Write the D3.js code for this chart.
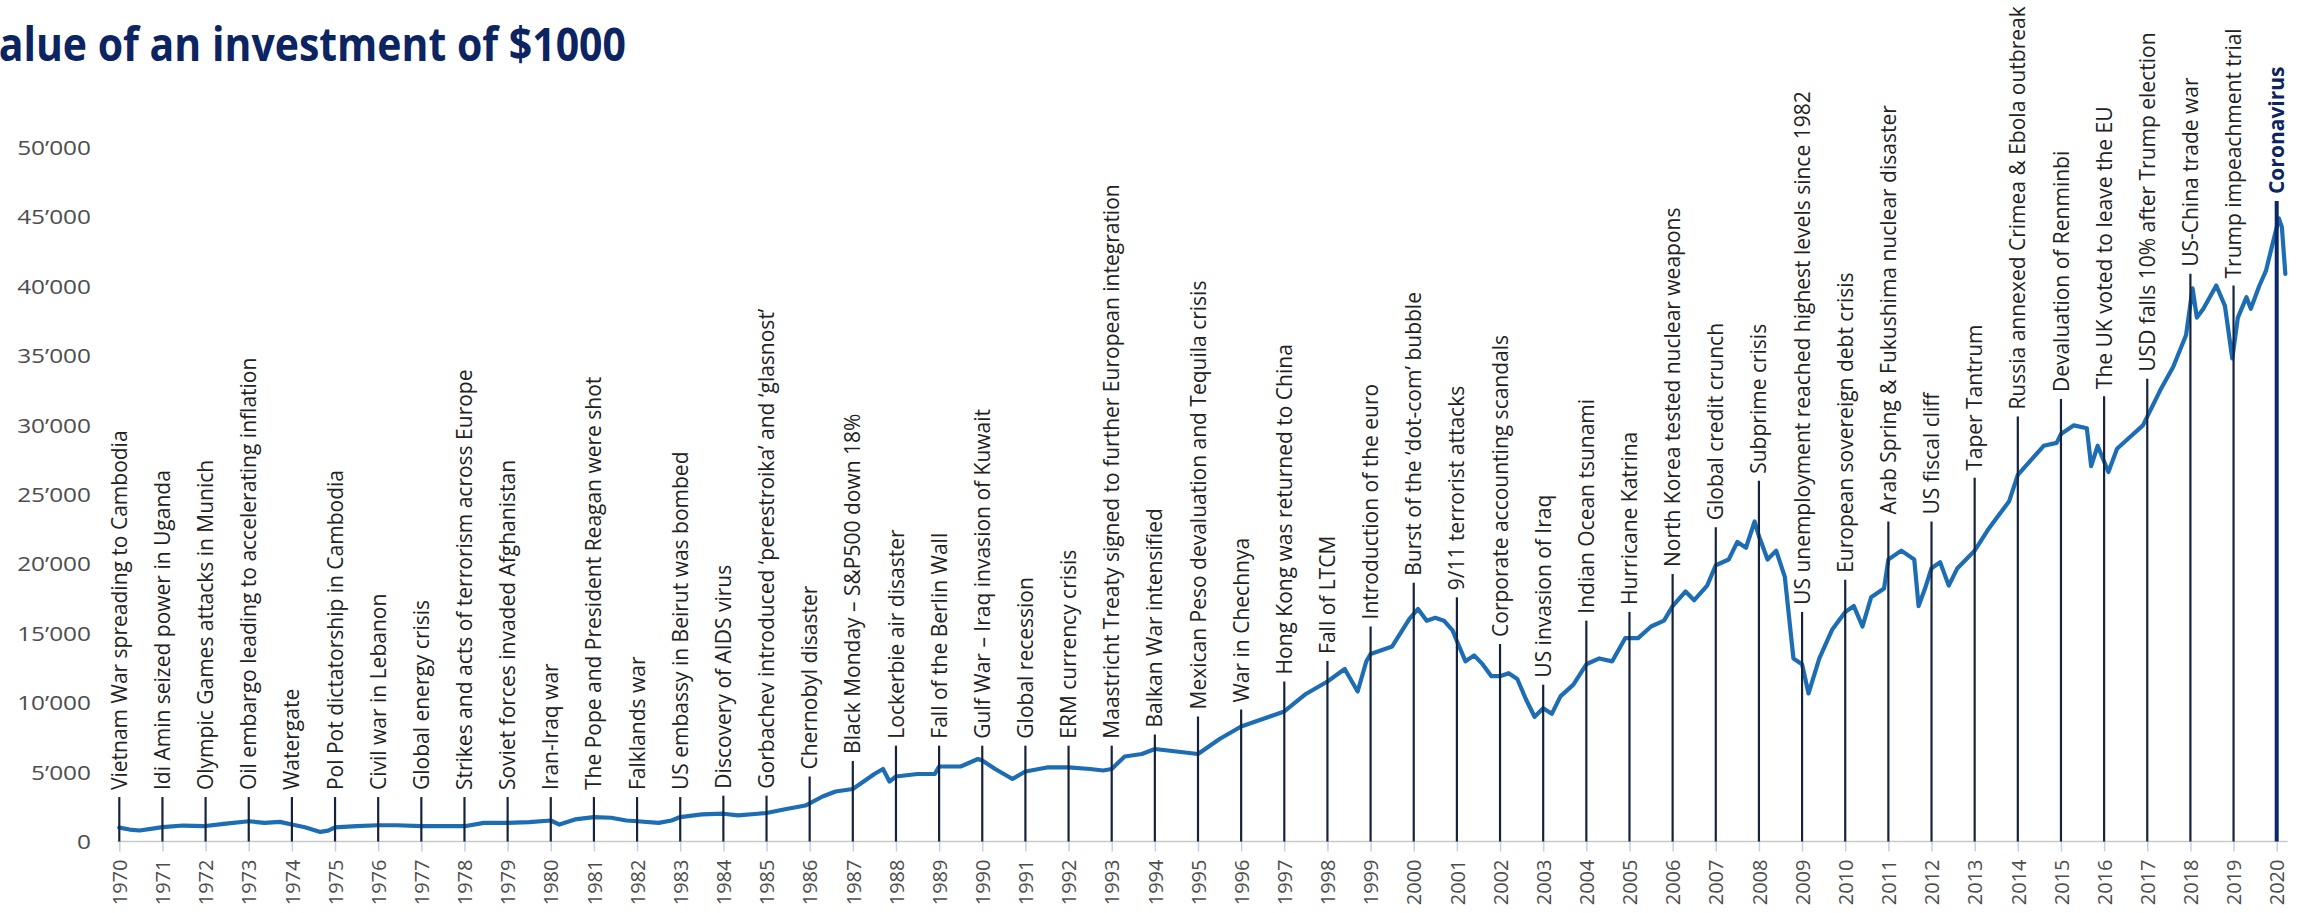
<!DOCTYPE html>
<html>
<head>
<meta charset="utf-8">
<script src="https://cdn.jsdelivr.net/npm/d3@7"></script>
<style>
  body { margin: 0; background: #fff; }
  svg { display: block; }
</style>
</head>
<body>
<svg id="chart" width="2313" height="913"></svg>
<script>
// ---- data ----------------------------------------------------------------
const titleText = "Value of an investment of $1000";

const yTicks = [0, 5000, 10000, 15000, 20000, 25000, 30000, 35000, 40000, 45000, 50000];
const yearTicks = d3.range(1970, 2021);

// portfolio value in USD, sampled along the time axis (decimal years)
const seriesDates = [
  1970.00, 1970.24, 1970.47, 1970.77, 1971.00, 1971.48, 1971.95, 1972.42, 1973.00, 1973.37,
  1973.72, 1974.00, 1974.30, 1974.66, 1974.84, 1975.00, 1975.50, 1976.00, 1976.43, 1977.00,
  1977.50, 1978.00, 1978.45, 1979.00, 1979.50, 1980.00, 1980.20, 1980.56, 1981.00, 1981.40,
  1981.75, 1982.00, 1982.50, 1982.80, 1983.00, 1983.50, 1984.00, 1984.34, 1984.80, 1985.00,
  1985.40, 1985.90, 1986.30, 1986.60, 1987.00, 1987.50, 1987.70, 1987.85, 1988.00, 1988.50,
  1988.90, 1989.00, 1989.50, 1989.90, 1990.00, 1990.30, 1990.70, 1991.00, 1991.50, 1992.00,
  1992.50, 1992.80, 1993.00, 1993.30, 1993.70, 1994.00, 1994.50, 1995.00, 1995.50, 1996.00,
  1996.50, 1997.00, 1997.50, 1997.80, 1998.00, 1998.40, 1998.70, 1998.90, 1999.00, 1999.50,
  1999.90, 2000.10, 2000.30, 2000.50, 2000.70, 2000.90, 2001.00, 2001.20, 2001.40, 2001.60,
  2001.80, 2002.00, 2002.20, 2002.40, 2002.60, 2002.80, 2003.00, 2003.20, 2003.40, 2003.70,
  2004.00, 2004.30, 2004.60, 2004.90, 2005.20, 2005.50, 2005.80, 2006.00, 2006.30, 2006.50,
  2006.80, 2007.00, 2007.30, 2007.50, 2007.70, 2007.90, 2008.00, 2008.20, 2008.40, 2008.60,
  2008.80, 2009.00, 2009.15, 2009.40, 2009.70, 2010.00, 2010.20, 2010.40, 2010.60, 2010.90,
  2011.00, 2011.30, 2011.60, 2011.70, 2011.85, 2012.00, 2012.20, 2012.40, 2012.60, 2012.80,
  2013.00, 2013.30, 2013.50, 2013.80, 2014.00, 2014.30, 2014.60, 2014.90, 2015.00, 2015.30,
  2015.60, 2015.70, 2015.85, 2016.10, 2016.30, 2016.60, 2016.90, 2017.00, 2017.30, 2017.60,
  2017.90, 2018.05, 2018.15, 2018.30, 2018.60, 2018.80, 2018.97, 2019.10, 2019.30, 2019.40,
  2019.60, 2019.75, 2020.05, 2020.12, 2020.20
];
const seriesValues = [
  1000, 860, 790, 930, 1030, 1150, 1100, 1270, 1460, 1340,
  1410, 1220, 1030, 690, 780, 1020, 1100, 1170, 1170, 1100,
  1100, 1100, 1340, 1340, 1390, 1510, 1220, 1590, 1760, 1710,
  1510, 1460, 1340, 1510, 1760, 1950, 2000, 1880, 2000, 2050,
  2300, 2590, 3240, 3600, 3780, 4860, 5220, 4320, 4680, 4860,
  4860, 5400, 5400, 5940, 5830, 5220, 4500, 5040, 5330, 5330,
  5220, 5110, 5220, 6120, 6300, 6660, 6480, 6300, 7380, 8280,
  8820, 9360, 10620, 11160, 11520, 12420, 10800, 12960, 13500, 14040,
  16020, 16740, 15900, 16100, 15900, 15200, 14430, 12970, 13400, 12750,
  11900, 11900, 12120, 11700, 10240, 8980, 9600, 9190, 10450, 11290,
  12760, 13180, 12970, 14640, 14640, 15480, 15900, 16950, 18000, 17370,
  18420, 19890, 20300, 21570, 21150, 23040, 21990, 20300, 20940, 19050,
  13180, 12760, 10660, 13180, 15270, 16530, 16950, 15480, 17580, 18210,
  20300, 20940, 20300, 16950, 18210, 19680, 20100, 18420, 19680, 20300,
  20940, 22400, 23250, 24500, 26390, 27440, 28490, 28700, 29330, 29960,
  29750, 27020, 28490, 26600, 28280, 29120, 29960, 30590, 32480, 34160,
  36460, 39820, 37720, 38350, 40030, 38560, 34780, 37720, 39190, 38350,
  40030, 41080, 44860, 44230, 40870
];

// one headline event per year; the level is the value at which its marker stem ends
const eventYears = d3.range(1970, 2021);
const eventLabels = [
  "Vietnam War spreading to Cambodia",
  "Idi Amin seized power in Uganda",
  "Olympic Games attacks in Munich",
  "Oil embargo leading to accelerating inflation",
  "Watergate",
  "Pol Pot dictatorship in Cambodia",
  "Civil war in Lebanon",
  "Global energy crisis",
  "Strikes and acts of terrorism across Europe",
  "Soviet forces invaded Afghanistan",
  "Iran-Iraq war",
  "The Pope and President Reagan were shot",
  "Falklands war",
  "US embassy in Beirut was bombed",
  "Discovery of AIDS virus",
  "Gorbachev introduced \u2018perestroika\u2019 and \u2018glasnost\u2019",
  "Chernobyl disaster",
  "Black Monday \u2013 S&P500 down 18%",
  "Lockerbie air disaster",
  "Fall of the Berlin Wall",
  "Gulf War \u2013 Iraq invasion of Kuwait",
  "Global recession",
  "ERM currency crisis",
  "Maastricht Treaty signed to further European integration",
  "Balkan War intensified",
  "Mexican Peso devaluation and Tequila crisis",
  "War in Chechnya",
  "Hong Kong was returned to China",
  "Fall of LTCM",
  "Introduction of the euro",
  "Burst of the \u2018dot-com\u2019 bubble",
  "9/11 terrorist attacks",
  "Corporate accounting scandals",
  "US invasion of Iraq",
  "Indian Ocean tsunami",
  "Hurricane Katrina",
  "North Korea tested nuclear weapons",
  "Global credit crunch",
  "Subprime crisis",
  "US unemployment reached highest levels since 1982",
  "European sovereign debt crisis",
  "Arab Spring & Fukushima nuclear disaster",
  "US fiscal cliff",
  "Taper Tantrum",
  "Russia annexed Crimea & Ebola outbreak",
  "Devaluation of Renminbi",
  "The UK voted to leave the EU",
  "USD falls 10% after Trump election",
  "US-China trade war",
  "Trump impeachment trial",
  "Coronavirus"
];
const eventLevels = [
  3200, 3200, 3200, 3200, 3200, 3200, 3200, 3200, 3200, 3200,
  3200, 3200, 3200, 3200, 3300, 3300, 4680, 5800, 6900, 6900,
  6900, 6900, 6900, 6900, 7700, 9000, 9500, 11520, 13000, 15480,
  18630, 17580, 14220, 11290, 15900, 16530, 19260, 22620, 25970, 16530,
  18840, 23040, 23040, 26180, 30590, 31850, 32060, 33320, 40870, 40030,
  46110
];
const highlightYear = 2020;

// ---- layout --------------------------------------------------------------
const svg = d3.select("#chart");
const x = d3.scaleLinear().domain([1970, 2020]).range([119.3, 2276.7]);
const y = d3.scaleLinear().domain([0, 50000]).range([841.5, 147]);

const fmt = v => d3.format(",")(v).replace(/,/g, "\u2019");

// title (runs off the left edge of the page)
svg.append("text")
  .attr("x", 626)
  .attr("y", 61)
  .attr("text-anchor", "end")
  .attr("textLength", 654)
  .attr("lengthAdjust", "spacingAndGlyphs")
  .style("font-family", "'Open Sans', sans-serif")
  .style("font-weight", 700)
  .style("font-size", "46px")
  .style("fill", "#0c2461")
  .text(titleText);

// y axis labels only
const yAxis = svg.append("g")
  .attr("transform", "translate(91,0)")
  .call(d3.axisLeft(y).tickValues(yTicks).tickFormat(fmt).tickSize(0).tickPadding(0));
yAxis.select(".domain").remove();
yAxis.selectAll("text")
  .attr("transform", "scale(1.22,1)")
  .attr("dy", "0.36em")
  .style("font-family", "'Open Sans', sans-serif")
  .style("font-size", "20px")
  .style("fill", "#4d4d4d");

// x axis with rotated year labels
const xAxis = svg.append("g")
  .attr("transform", `translate(0,${y(0)})`)
  .call(d3.axisBottom(x).tickValues(yearTicks).tickFormat(d3.format("d")).tickSize(10).tickPadding(0));
xAxis.select(".domain")
  .attr("d", `M${x(1970) - 2},0H${x(2020) + 11}`)
  .attr("stroke", "#c9c9c9")
  .attr("stroke-width", 1.5);
xAxis.selectAll(".tick line")
  .attr("stroke", "#c9cde6")
  .attr("stroke-width", 1.5);
xAxis.selectAll(".tick text")
  .attr("transform", "rotate(-90)")
  .attr("x", -18)
  .attr("y", 0)
  .attr("dy", "0.36em")
  .attr("text-anchor", "end")
  .style("font-family", "'Open Sans', sans-serif")
  .style("font-size", "20px")
  .style("fill", "#4d4d4d");

// value line
const series = seriesDates.map((d, i) => ({ t: d, v: seriesValues[i] }));
svg.append("path")
  .datum(series)
  .attr("fill", "none")
  .attr("stroke", "#1c6db4")
  .attr("stroke-width", 4.2)
  .attr("stroke-linejoin", "round")
  .attr("stroke-linecap", "round")
  .attr("d", d3.line().x(d => x(d.t)).y(d => y(d.v)));

// event stems and their labels
const events = eventYears.map((yr, i) => ({ yr, label: eventLabels[i], level: eventLevels[i] }));
const ev = svg.append("g").selectAll("g")
  .data(events)
  .join("g")
  .attr("transform", d => `translate(${x(d.yr)},${y(d.level)})`);

ev.append("line")
  .attr("x1", 0).attr("x2", 0)
  .attr("y1", 0)
  .attr("y2", d => y(0) - y(d.level))
  .attr("stroke", d => d.yr === highlightYear ? "#0b2866" : "#17233d")
  .attr("stroke-width", d => d.yr === highlightYear ? 4 : 2.2);

ev.append("text")
  .attr("transform", "rotate(-90)")
  .attr("x", 7)
  .attr("dy", "0.36em")
  .attr("text-anchor", "start")
  .style("font-family", "'Open Sans', sans-serif")
  .style("font-size", "21px")
  .style("font-weight", d => d.yr === highlightYear ? 700 : 400)
  .style("fill", d => d.yr === highlightYear ? "#0c2461" : "#222222")
  .text(d => d.label);
</script>
</body>
</html>
